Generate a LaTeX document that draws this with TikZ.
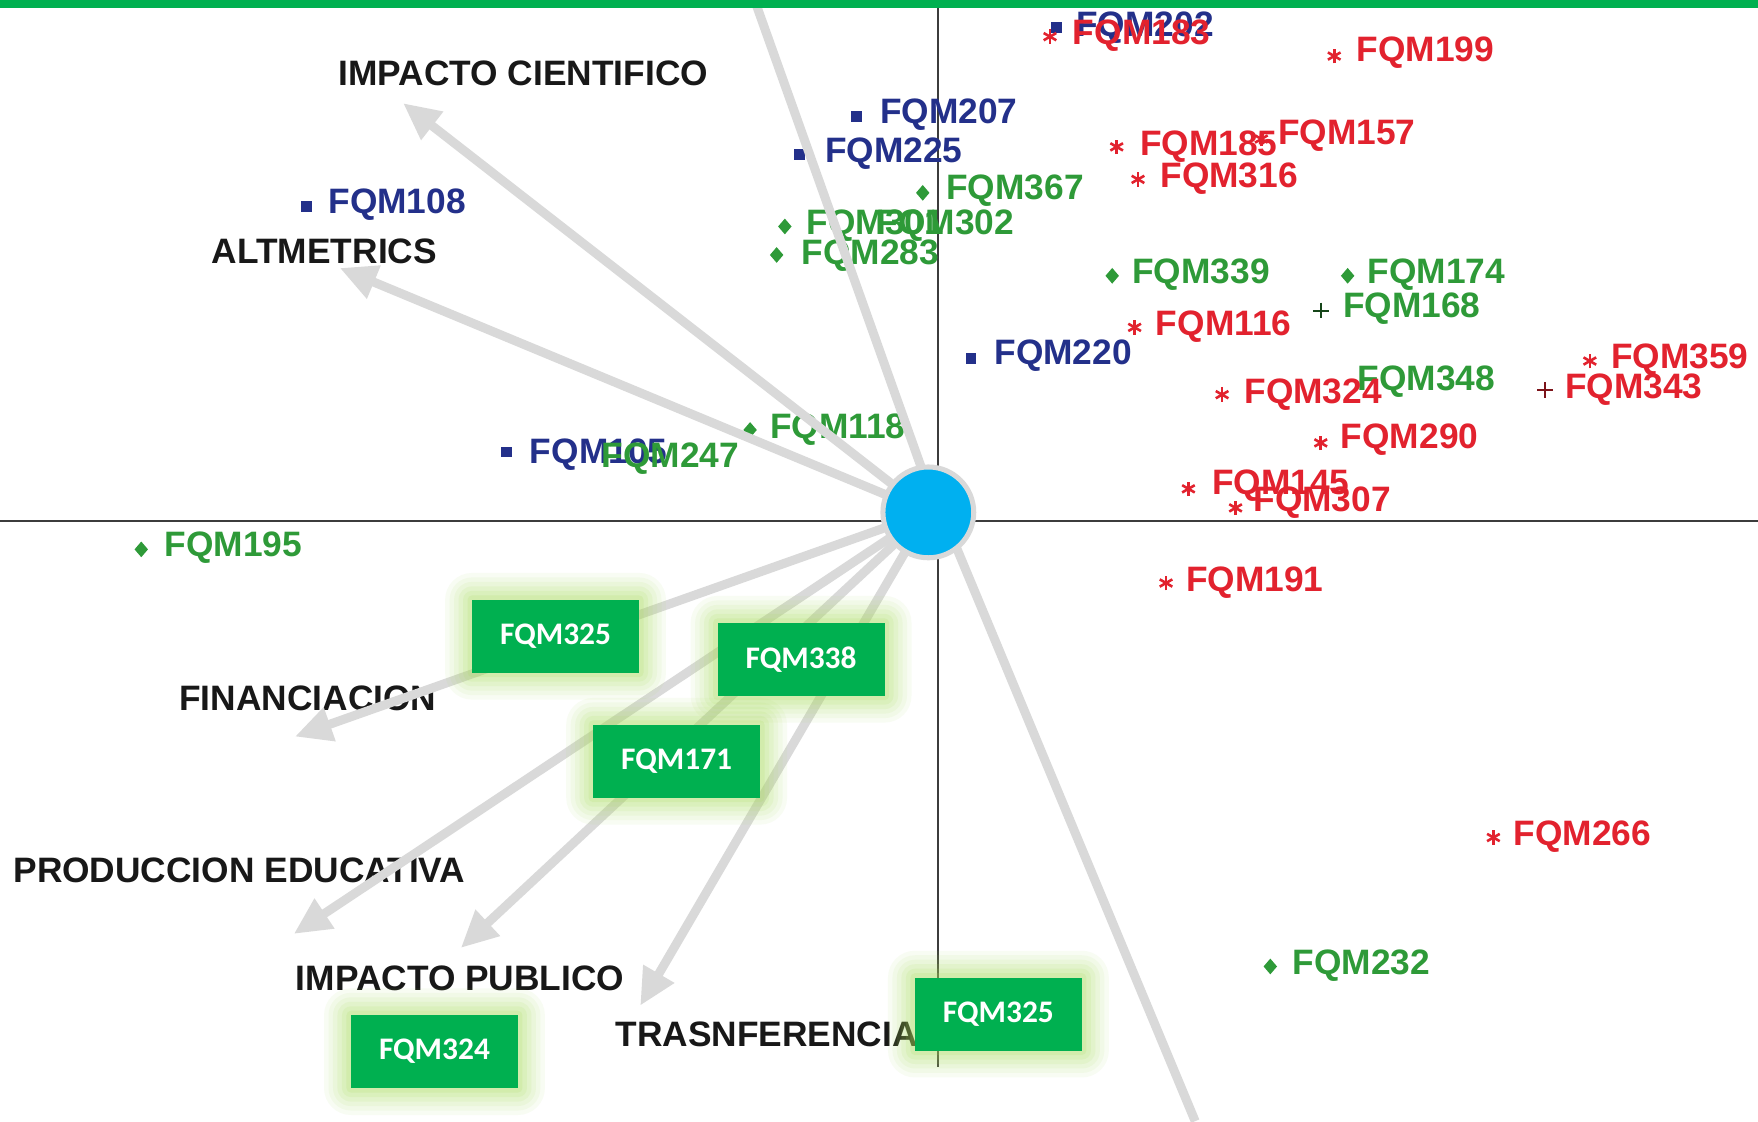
\documentclass[tikz,border=0pt]{standalone}
\usepackage{fontspec}
\setmainfont{Liberation Sans}
\newfontfamily\boxfont{Carlito}
\usetikzlibrary{arrows.meta,shapes.geometric,calc}
\definecolor{barG}{HTML}{00B050}
\definecolor{boxG}{HTML}{00B050}
\definecolor{glowG}{HTML}{A9DC5A}
\definecolor{arrG}{HTML}{D9D9D9}
\definecolor{circB}{HTML}{00B0F0}
\definecolor{axisC}{HTML}{3C3C3C}
\definecolor{ptB}{HTML}{23308A}
\definecolor{ptG}{HTML}{2E9A38}
\definecolor{ptR}{HTML}{E2222E}
\definecolor{headC}{HTML}{181818}
\pgfdeclarelayer{glowlayer}
\pgfdeclarelayer{fglayer}
\pgfsetlayers{main,glowlayer,fglayer}
\newcommand\dlab[5]{\node[lbl, text=#4] (#1) at (#2,#3) {#5};}
\newcommand\astk[3]{\coordinate (#1) at (#2,#3);
  \foreach \a in {90,30,150} \draw[ptR, line width=2.3pt] ($(#1)+(\a:6.5)$) -- ($(#1)+(\a+180:6.5)$);}
\newcommand\plusm[4]{\coordinate (#1) at (#2,#3);
  \draw[#4, line width=1.8pt] ($(#1)+(-7,0)$) -- ($(#1)+(7,0)$) ($(#1)+(0,-7)$) -- ($(#1)+(0,7)$);}
\begin{document}
\begin{tikzpicture}[x=1pt,y=-1pt,
  every node/.style={inner sep=0pt, outer sep=0pt},
  lbl/.style={anchor=west, text height=22pt, text depth=0pt, font=\fontsize{31.5}{34}\selectfont\bfseries},
  head/.style={lbl, text=headC},
  axis/.style={draw=axisC, line width=2.2pt},
  fan/.style={draw=arrG, line width=8pt, -{Triangle[length=33pt,width=30pt]}},
  fanopen/.style={draw=arrG, line width=8pt},
  hub/.style={circle, fill=circB, draw=arrG, line width=4.5pt, minimum size=81pt},
  gbox/.style={fill=boxG, minimum width=149pt, minimum height=65pt, text=white, font=\boxfont\bfseries\fontsize{28}{30}\selectfont},
  sqm/.style={fill=ptB, minimum size=9.5pt},
  dmm/.style={diamond, fill=ptG, minimum width=12pt, minimum height=14pt}
]
\useasboundingbox (0,0) rectangle (1568,1000);
\fill[white] (0,0) rectangle (1568,1000);
% axes
\coordinate (vtop) at (836.6,7); \coordinate (vbot) at (836.6,952);
\coordinate (hl) at (0,464.7); \coordinate (hr) at (1568,464.7);
\draw[axis] (vtop) -- (vbot);
\draw[axis] (hl) -- (hr);
% data labels
\dlab{l202}{960}{21.5}{ptB}{FQM202}
\node[sqm] (m202) at (942.5,24.5) {};
\dlab{l183}{957}{28.5}{ptR}{FQM183}
\astk{m183}{936.5}{32.7}
\dlab{l199}{1210}{44}{ptR}{FQM199}
\astk{m199}{1190}{50}
\dlab{l207}{785}{99.6}{ptB}{FQM207}
\node[sqm] (m207) at (764,104) {};
\dlab{l225}{736}{134}{ptB}{FQM225}
\node[sqm] (m225) at (713,138) {};
\dlab{l157}{1140}{118}{ptR}{FQM157}
\astk{m157}{1125}{124}
\dlab{l185}{1017}{128}{ptR}{FQM185}
\astk{m185}{996}{131}
\dlab{l316}{1035}{156}{ptR}{FQM316}
\astk{m316}{1015}{160}
\dlab{l367}{844}{166.5}{ptG}{FQM367}
\node[dmm] (m367) at (823,172) {};
\dlab{l301}{719.5}{198}{ptG}{FQM301}
\node[dmm] (m301) at (700,202) {};
\dlab{l302}{782}{198.5}{ptG}{FQM302}
\dlab{l283}{715}{224.5}{ptG}{FQM283}
\node[dmm] (m283) at (692.7,227.4) {};
\dlab{l108}{293}{179.3}{ptB}{FQM108}
\node[sqm] (m108) at (273.5,184.3) {};
\dlab{l339}{1010}{242}{ptG}{FQM339}
\node[dmm] (m339) at (992,246) {};
\dlab{l174}{1220}{242}{ptG}{FQM174}
\node[dmm] (m174) at (1202,246) {};
\dlab{l116}{1031}{288}{ptR}{FQM116}
\astk{m116}{1012}{292}
\dlab{l168}{1198}{272}{ptG}{FQM168}
\plusm{m168}{1178}{277}{ptG!45!black}
\dlab{l220}{887}{314}{ptB}{FQM220}
\node[sqm] (m220) at (866,320) {};
\dlab{l348}{1211}{337}{ptG}{FQM348}
\dlab{l324}{1110}{349}{ptR}{FQM324}
\astk{m324}{1090}{352}
\dlab{l359}{1437}{318}{ptR}{FQM359}
\astk{m359}{1418}{322}
\dlab{l343}{1396}{344}{ptR}{FQM343}
\plusm{m343}{1378}{348}{ptR!55!black}
\dlab{l290}{1196}{389}{ptR}{FQM290}
\astk{m290}{1178}{395}
\dlab{l145}{1081}{430}{ptR}{FQM145}
\astk{m145}{1060}{436}
\dlab{l307}{1118}{445}{ptR}{FQM307}
\astk{m307}{1102}{453}
\dlab{l191}{1058}{517}{ptR}{FQM191}
\astk{m191}{1040}{520}
\dlab{l266}{1350}{743}{ptR}{FQM266}
\astk{m266}{1332}{747}
\dlab{l232}{1153}{858}{ptG}{FQM232}
\node[dmm] (m232) at (1133,862) {};
\dlab{l195}{147}{485}{ptG}{FQM195}
\node[dmm] (m195) at (126,490) {};
\dlab{l105}{472.7}{402.8}{ptB}{FQM105}
\node[sqm] (m105) at (452,403) {};
\dlab{l247}{536.6}{405.8}{ptG}{FQM247}
\dlab{l118}{686.8}{380.5}{ptG}{FQM118}
\node[dmm] (m118) at (669,383.5) {};
% headings
\node[head] (hIC) at (302,65.4) {IMPACTO CIENTIFICO};
\node[head] (hAL) at (189,224) {ALTMETRICS};
\node[head] (hFI) at (160,622.5) {FINANCIACION};
\node[head] (hPE) at (12,776.5) {PRODUCCION EDUCATIVA};
\node[head] (hIP) at (264,872.6) {IMPACTO PUBLICO};
\node[head] (hTR) at (549,922) {TRASNFERENCIA};
% fan of arrows
\coordinate (cc) at (828,457);
\coordinate (sTop) at (836,457);
\coordinate (sBot) at (840,457);
\coordinate (tIC) at (359.5,92);
\coordinate (tAL) at (303,239);
\coordinate (tFI) at (263,657);
\coordinate (tPE) at (262,833);
\coordinate (tIP) at (411,845.5);
\coordinate (tTR) at (571,897);
\coordinate (eTop) at (673,0);
\coordinate (eBot) at (1066,1000);
\draw[fanopen] (sTop) -- (eTop);
\draw[fanopen] (sBot) -- (eBot);
\draw[fan] (cc) -- (tIC);
\draw[fan] (cc) -- (tAL);
\draw[fan] (cc) -- (tFI);
\draw[fan] (cc) -- (tPE);
\draw[fan] (cc) -- (tIP);
\draw[fan] (cc) -- (tTR);
\node[hub] (hub) at (cc) {};
% boxes
\begin{pgfonlayer}{fglayer}
\node[gbox] (b1) at (495.5,567.5) {FQM325};
\node[gbox] (b2) at (714.5,588) {FQM338};
\node[gbox] (b3) at (603.5,679) {FQM171};
\node[gbox] (b4) at (387.5,938) {FQM324};
\node[gbox] (b5) at (890.5,904.5) {FQM325};
\fill[barG] (0,0) rectangle (1568,7);
\end{pgfonlayer}
\begin{pgfonlayer}{glowlayer}
\foreach \b in {b1,b2,b3,b4,b5}{
  \foreach \g/\o in {24/0.07,20/0.08,16/0.09,12/0.11,8/0.13,4/0.16}{
    \fill[glowG, opacity=\o, rounded corners=\g pt] ($(\b.south west)+(-\g,\g)$) rectangle ($(\b.north east)+(\g,-\g)$);
  }
}
\end{pgfonlayer}
\end{tikzpicture}
\end{document}
